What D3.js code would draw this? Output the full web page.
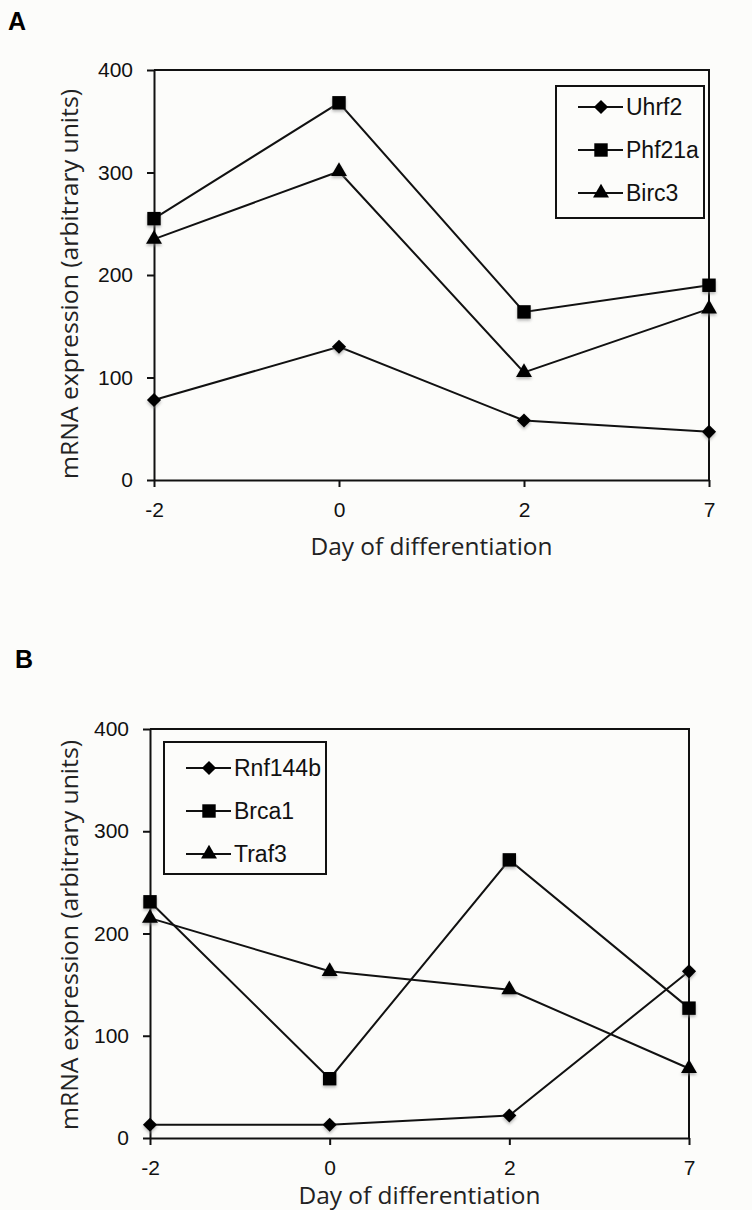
<!DOCTYPE html>
<html>
<head>
<meta charset="utf-8">
<script src="https://cdn.jsdelivr.net/npm/d3@7"></script>
<style>
  body { margin: 0; background: #fcfcfa; }
  svg { display: block; }
  .tick-y { font-family: "Liberation Sans", Arial, sans-serif; font-size: 21px; }
  .tick-x { font-family: "Liberation Sans", Arial, sans-serif; font-size: 21px; }
  .xtitle { font-family: "Open Sans", "Liberation Sans", sans-serif; font-size: 23px; }
  .ytitle { font-family: "Open Sans", "Liberation Sans", sans-serif; font-size: 24px; }
  .legend text { font-family: "Liberation Sans", Arial, sans-serif; font-size: 23px; }
  .panel-label { font-family: "Liberation Sans", Arial, sans-serif; font-size: 25px; font-weight: bold; }
</style>
</head>
<body>
<div id="viz"></div>
<script>
// data
var days = ["-2", "0", "2", "7"];
var yTicks = [0, 100, 200, 300, 400];
var shapes = ["diamond", "square", "triangle"];

var genesA = ["Uhrf2", "Phf21a", "Birc3"];
var uhrf2  = [78, 130, 58, 47];
var phf21a = [255, 368, 164, 190];
var birc3  = [235, 301, 105, 167];

var genesB = ["Rnf144b", "Brca1", "Traf3"];
var rnf144b = [13, 13, 22, 163];
var brca1   = [231, 58, 272, 127];
var traf3   = [215, 163, 145, 68];

var W = 752, H = 1210;
var svg = d3.select("#viz").append("svg")
    .attr("width", W)
    .attr("height", H);

svg.append("rect").attr("width", W).attr("height", H).attr("fill", "#fcfcfa");

// soft halo like the scanned markers
var defs = svg.append("defs");
defs.append("filter").attr("id", "soft")
    .attr("x", "-50%").attr("y", "-50%").attr("width", "200%").attr("height", "200%")
  .append("feGaussianBlur").attr("stdDeviation", 1.6);

function symbolPath(shape) {
  if (shape == "square") return d3.symbol().type(d3.symbolSquare).size(180)();
  if (shape == "triangle") return d3.symbol().type(d3.symbolTriangle).size(110)();
  return d3.symbol().type(d3.symbolSquare).size(100)();
}
function symbolRot(shape) { return shape == "diamond" ? " rotate(45)" : ""; }

function drawPanel(p) {
  var x = d3.scalePoint().domain(days).range([p.left, p.right]);
  var y = d3.scaleLinear().domain([0, 400]).range([p.bottom, p.top]);
  var g = svg.append("g");

  // frame (top + right)
  g.append("path")
      .attr("d", "M" + p.left + "," + p.top + "H" + p.right + "V" + p.bottom)
      .attr("fill", "none").attr("stroke", "#111").attr("stroke-width", 2);

  var yAxis = g.append("g")
      .attr("transform", "translate(" + p.left + ",0)")
      .call(d3.axisLeft(y).tickValues(yTicks).tickSize(7).tickPadding(14).tickSizeOuter(0));
  yAxis.selectAll("text").attr("class", "tick-y").attr("fill", "#111");
  yAxis.attr("font-size", null).attr("font-family", null);

  var xAxis = g.append("g")
      .attr("transform", "translate(0," + p.bottom + ")")
      .call(d3.axisBottom(x).tickSize(7).tickPadding(15).tickSizeOuter(0));
  xAxis.selectAll("text").attr("class", "tick-x").attr("fill", "#111");
  xAxis.attr("font-size", null).attr("font-family", null);

  g.selectAll(".domain, .tick line").attr("stroke", "#111").attr("stroke-width", 2);

  g.append("text")
      .attr("class", "xtitle")
      .attr("x", (p.left + p.right) / 2)
      .attr("y", p.bottom + p.xtdy)
      .attr("text-anchor", "middle")
      .attr("textLength", 242)
      .attr("lengthAdjust", "spacingAndGlyphs")
      .attr("fill", "#222")
      .text("Day of differentiation");

  g.append("text")
      .attr("class", "ytitle")
      .attr("transform", "translate(" + p.ytx + "," + p.ytc + ") rotate(-90)")
      .attr("text-anchor", "middle")
      .attr("textLength", 390)
      .attr("lengthAdjust", "spacingAndGlyphs")
      .attr("fill", "#222")
      .text("mRNA expression (arbitrary units)");

  var line = d3.line().x(function(d, i) { return x(days[i]); }).y(function(d) { return y(d); });

  p.series.forEach(function(vals, k) {
    g.append("path")
        .datum(vals)
        .attr("d", line)
        .attr("fill", "none")
        .attr("stroke", "#111")
        .attr("stroke-width", 2);
    g.selectAll(".halo" + k)
        .data(vals)
      .enter().append("path")
        .attr("class", "halo" + k)
        .attr("d", symbolPath(shapes[k]))
        .attr("transform", function(d, i) { return "translate(" + x(days[i]) + "," + (y(d) + 2) + ")" + symbolRot(shapes[k]); })
        .attr("fill", "#888")
        .attr("opacity", 0.6)
        .attr("filter", "url(#soft)");
    g.selectAll(".pt" + k)
        .data(vals)
      .enter().append("path")
        .attr("class", "pt" + k)
        .attr("d", symbolPath(shapes[k]))
        .attr("transform", function(d, i) { return "translate(" + x(days[i]) + "," + y(d) + ")" + symbolRot(shapes[k]); })
        .attr("fill", "#000");
  });

  // legend
  var lg = g.append("g").attr("class", "legend");
  lg.append("rect")
      .attr("x", p.leg.x).attr("y", p.leg.y)
      .attr("width", p.leg.w).attr("height", p.leg.h)
      .attr("fill", "#fcfcfa").attr("stroke", "#111").attr("stroke-width", 2);
  p.genes.forEach(function(name, k) {
    var yy = p.leg.y + p.leg.first + k * 43;
    lg.append("line")
        .attr("x1", p.leg.x + 22).attr("x2", p.leg.x + 67)
        .attr("y1", yy).attr("y2", yy)
        .attr("stroke", "#111").attr("stroke-width", 2);
    lg.append("path")
        .attr("d", symbolPath(shapes[k]))
        .attr("transform", "translate(" + (p.leg.x + 45) + "," + yy + ")" + symbolRot(shapes[k]))
        .attr("fill", "#000");
    lg.append("text")
        .attr("x", p.leg.x + 70).attr("y", yy)
        .attr("dy", "0.36em")
        .attr("fill", "#111")
        .text(name);
  });

  svg.append("text")
      .attr("class", "panel-label")
      .attr("x", p.labx).attr("y", p.laby)
      .text(p.label);
}

drawPanel({
  label: "A", labx: 8, laby: 30,
  left: 154, right: 709, top: 70, bottom: 480,
  ytx: 78, ytc: 284, xtdy: 75,
  series: [uhrf2, phf21a, birc3], genes: genesA,
  leg: {x: 556, y: 86, w: 148, h: 132, first: 21}
});

drawPanel({
  label: "B", labx: 15, laby: 668,
  left: 150, right: 689, top: 729, bottom: 1138,
  ytx: 78, ytc: 935, xtdy: 66,
  series: [rnf144b, brca1, traf3], genes: genesB,
  leg: {x: 164, y: 742, w: 162, h: 132, first: 26}
});
</script>
</body>
</html>
